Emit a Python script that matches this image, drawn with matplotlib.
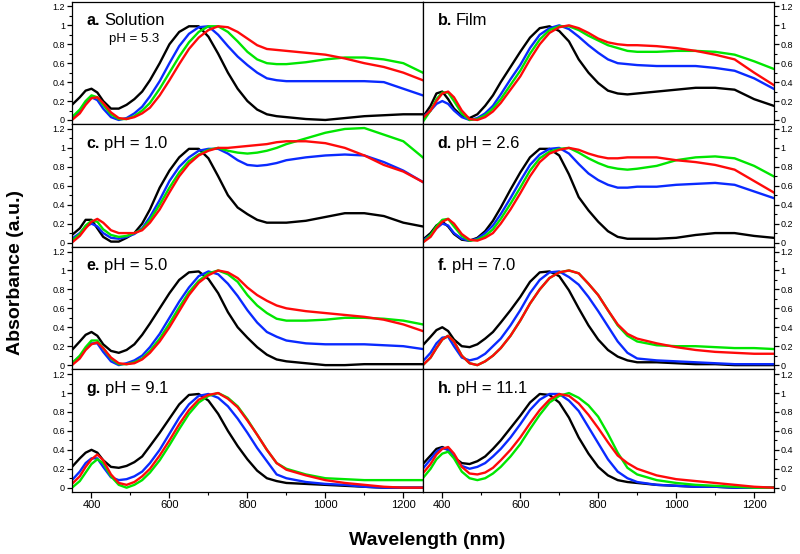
import matplotlib
matplotlib.use("Agg")
import matplotlib.pyplot as plt
from matplotlib.ticker import MultipleLocator, FuncFormatter

plt.rcParams['font.family'] = ['Liberation Sans', 'DejaVu Sans']

wavelength = [350, 370, 385, 400, 415, 430, 450, 470, 490, 510, 530, 550, 575, 600, 625, 650, 675,
              700, 725, 750, 775, 800, 825, 850, 875, 900, 950, 1000, 1050, 1100, 1150, 1200, 1250]

# Panel a: Solution pH 5.3
a_black = [0.16, 0.24, 0.31, 0.33, 0.29, 0.20, 0.12, 0.12, 0.16, 0.22, 0.30, 0.42, 0.60, 0.80, 0.93, 0.99, 0.99,
           0.88, 0.70, 0.50, 0.33, 0.20, 0.11, 0.06, 0.04, 0.03, 0.01, 0.00, 0.02, 0.04, 0.05, 0.06, 0.06]
a_blue = [0.02, 0.10, 0.19, 0.24, 0.21, 0.12, 0.03, 0.00, 0.02, 0.07, 0.14, 0.25, 0.41, 0.60, 0.78, 0.91, 0.98,
          0.99, 0.90, 0.78, 0.67, 0.58, 0.50, 0.44, 0.42, 0.41, 0.41, 0.41, 0.41, 0.41, 0.40, 0.33, 0.26]
a_green = [0.03, 0.11, 0.20, 0.26, 0.24, 0.16, 0.06, 0.01, 0.01, 0.04, 0.10, 0.18, 0.33, 0.50, 0.67, 0.82, 0.93,
           0.99, 0.99, 0.93, 0.83, 0.72, 0.64, 0.60, 0.59, 0.59, 0.61, 0.64, 0.66, 0.66, 0.64, 0.60, 0.50]
a_red = [0.00, 0.07, 0.16, 0.23, 0.24, 0.18, 0.08, 0.02, 0.01, 0.03, 0.07, 0.13, 0.26, 0.42, 0.59, 0.75, 0.87,
         0.95, 0.99, 0.98, 0.93, 0.86, 0.79, 0.75, 0.74, 0.73, 0.71, 0.69, 0.65, 0.60, 0.56, 0.50, 0.42]

# Panel b: Film
b_black = [0.03, 0.15, 0.28, 0.30, 0.22, 0.12, 0.04, 0.02, 0.06, 0.15, 0.26, 0.40, 0.56, 0.72, 0.87, 0.97, 0.99,
           0.94, 0.83, 0.64, 0.50, 0.39, 0.31, 0.28, 0.27, 0.28, 0.30, 0.32, 0.34, 0.34, 0.32, 0.22, 0.15]
b_blue = [0.03, 0.10, 0.17, 0.20, 0.17, 0.10, 0.03, 0.00, 0.02, 0.07, 0.15, 0.27, 0.43, 0.58, 0.76, 0.90, 0.97,
          1.00, 0.96, 0.88, 0.79, 0.71, 0.64, 0.60, 0.59, 0.58, 0.57, 0.57, 0.57, 0.55, 0.52, 0.44, 0.33]
b_green = [-0.02, 0.10, 0.22, 0.29, 0.29, 0.20, 0.07, 0.00, 0.01, 0.05, 0.12, 0.22, 0.37, 0.52, 0.70, 0.85, 0.95,
           0.99, 0.99, 0.95, 0.89, 0.84, 0.79, 0.76, 0.73, 0.72, 0.72, 0.73, 0.73, 0.72, 0.69, 0.62, 0.54]
b_red = [0.02, 0.10, 0.20, 0.28, 0.30, 0.24, 0.10, 0.01, 0.00, 0.03, 0.09, 0.18, 0.32, 0.46, 0.64, 0.80, 0.92,
         0.98, 1.00, 0.97, 0.92, 0.86, 0.82, 0.80, 0.79, 0.79, 0.78, 0.76, 0.73, 0.69, 0.64, 0.50, 0.37]

# Panel c: pH 1.0
c_black = [0.08, 0.15, 0.24, 0.24, 0.15, 0.06, 0.01, 0.01, 0.05, 0.10, 0.20, 0.35, 0.58, 0.76, 0.90, 0.99, 0.99,
           0.89, 0.70, 0.50, 0.37, 0.30, 0.24, 0.21, 0.21, 0.21, 0.23, 0.27, 0.31, 0.31, 0.28, 0.21, 0.17]
c_blue = [0.04, 0.10, 0.17, 0.20, 0.17, 0.10, 0.05, 0.04, 0.06, 0.09, 0.15, 0.27, 0.45, 0.65, 0.80, 0.90, 0.97,
          0.99, 0.99, 0.94, 0.87, 0.82, 0.81, 0.82, 0.84, 0.87, 0.90, 0.92, 0.93, 0.92, 0.85, 0.76, 0.64]
c_green = [0.02, 0.09, 0.18, 0.23, 0.22, 0.14, 0.08, 0.06, 0.07, 0.10, 0.14, 0.24, 0.40, 0.58, 0.74, 0.86, 0.93,
           0.98, 1.00, 0.97, 0.95, 0.94, 0.95, 0.97, 1.00, 1.04, 1.10, 1.16, 1.20, 1.21, 1.14, 1.07, 0.90]
c_red = [0.00, 0.07, 0.15, 0.22, 0.25, 0.21, 0.13, 0.10, 0.10, 0.10, 0.13, 0.21, 0.35, 0.53, 0.70, 0.83, 0.92,
         0.97, 1.00, 1.00, 1.01, 1.02, 1.03, 1.04, 1.06, 1.07, 1.07, 1.05, 1.00, 0.92, 0.82, 0.75, 0.64]

# Panel d: pH 2.6
d_black = [0.03, 0.10, 0.18, 0.22, 0.17, 0.09, 0.03, 0.02, 0.05, 0.12, 0.23, 0.37, 0.56, 0.74, 0.90, 0.99, 0.99,
           0.92, 0.72, 0.48, 0.34, 0.22, 0.12, 0.06, 0.04, 0.04, 0.04, 0.05, 0.08, 0.10, 0.10, 0.07, 0.05]
d_blue = [0.02, 0.08, 0.15, 0.20, 0.18, 0.10, 0.04, 0.02, 0.04, 0.10, 0.18, 0.30, 0.47, 0.65, 0.82, 0.93, 0.99,
          1.00, 0.94, 0.83, 0.73, 0.66, 0.61, 0.58, 0.58, 0.59, 0.59, 0.61, 0.62, 0.63, 0.61, 0.54, 0.47]
d_green = [0.00, 0.08, 0.17, 0.24, 0.25, 0.17, 0.07, 0.02, 0.03, 0.07, 0.14, 0.25, 0.41, 0.58, 0.76, 0.89, 0.96,
           0.99, 1.00, 0.95, 0.89, 0.84, 0.80, 0.78, 0.77, 0.78, 0.81, 0.87, 0.90, 0.91, 0.89, 0.81, 0.70]
d_red = [0.00, 0.06, 0.15, 0.22, 0.25, 0.20, 0.09, 0.03, 0.02, 0.05, 0.10, 0.20, 0.35, 0.52, 0.70, 0.85, 0.94,
         0.98, 1.00, 0.98, 0.94, 0.91, 0.89, 0.89, 0.90, 0.90, 0.90, 0.87, 0.85, 0.82, 0.77, 0.65, 0.53]

# Panel e: pH 5.0
e_black = [0.16, 0.25, 0.32, 0.35, 0.31, 0.22, 0.15, 0.13, 0.16, 0.22, 0.32, 0.44, 0.60, 0.76, 0.90, 0.98, 0.99,
           0.91, 0.76, 0.56, 0.40, 0.29, 0.19, 0.11, 0.06, 0.04, 0.02, 0.00, 0.00, 0.01, 0.01, 0.01, 0.01]
e_blue = [0.02, 0.09, 0.17, 0.23, 0.23, 0.14, 0.04, 0.00, 0.02, 0.05, 0.10, 0.19, 0.33, 0.50, 0.67, 0.82, 0.94,
          0.99, 0.96, 0.86, 0.73, 0.58, 0.45, 0.35, 0.30, 0.26, 0.23, 0.22, 0.22, 0.22, 0.21, 0.20, 0.17]
e_green = [0.02, 0.10, 0.19, 0.26, 0.26, 0.18, 0.07, 0.01, 0.01, 0.03, 0.07, 0.15, 0.28, 0.44, 0.61, 0.77, 0.89,
           0.97, 1.00, 0.96, 0.88, 0.74, 0.63, 0.55, 0.49, 0.47, 0.47, 0.48, 0.50, 0.50, 0.49, 0.47, 0.43]
e_red = [0.00, 0.07, 0.16, 0.22, 0.24, 0.18, 0.08, 0.02, 0.01, 0.02, 0.06, 0.13, 0.25, 0.40, 0.57, 0.74, 0.87,
         0.95, 1.00, 0.98, 0.92, 0.82, 0.74, 0.68, 0.63, 0.60, 0.57, 0.55, 0.53, 0.51, 0.48, 0.43, 0.36]

# Panel f: pH 7.0
f_black = [0.21, 0.30, 0.37, 0.40, 0.36, 0.27, 0.20, 0.19, 0.22, 0.28, 0.35, 0.45, 0.58, 0.72, 0.88, 0.98, 0.99,
           0.94, 0.79, 0.60, 0.42, 0.27, 0.16, 0.09, 0.05, 0.03, 0.03, 0.02, 0.01, 0.01, 0.00, 0.00, 0.00]
f_blue = [0.04, 0.13, 0.23, 0.29, 0.30, 0.20, 0.08, 0.05, 0.07, 0.12, 0.20, 0.28, 0.42, 0.58, 0.76, 0.90, 0.98,
          0.99, 0.93, 0.85, 0.72, 0.57, 0.41, 0.25, 0.13, 0.07, 0.05, 0.04, 0.03, 0.02, 0.01, 0.01, 0.01]
f_green = [0.00, 0.08, 0.18, 0.27, 0.31, 0.25, 0.10, 0.02, 0.00, 0.04, 0.10, 0.18, 0.31, 0.47, 0.65, 0.80, 0.92,
           0.98, 1.00, 0.97, 0.86, 0.74, 0.58, 0.42, 0.31, 0.25, 0.21, 0.20, 0.20, 0.19, 0.18, 0.18, 0.17]
f_red = [0.00, 0.08, 0.18, 0.27, 0.31, 0.25, 0.10, 0.02, 0.00, 0.04, 0.10, 0.18, 0.31, 0.47, 0.65, 0.80, 0.92,
         0.98, 1.00, 0.97, 0.86, 0.74, 0.58, 0.43, 0.33, 0.28, 0.23, 0.19, 0.16, 0.14, 0.13, 0.12, 0.12]

# Panel g: pH 9.1
g_black = [0.22, 0.31, 0.37, 0.40, 0.37, 0.29, 0.22, 0.21, 0.23, 0.27, 0.33, 0.44, 0.58, 0.73, 0.88, 0.98, 0.99,
           0.92, 0.78, 0.60, 0.44, 0.30, 0.18, 0.10, 0.07, 0.05, 0.04, 0.03, 0.02, 0.01, 0.00, 0.00, 0.00]
g_blue = [0.08, 0.17, 0.26, 0.31, 0.31, 0.22, 0.11, 0.08, 0.09, 0.12, 0.17, 0.26, 0.40, 0.57, 0.74, 0.88, 0.97,
          0.99, 0.95, 0.86, 0.73, 0.58, 0.42, 0.28, 0.14, 0.10, 0.06, 0.04, 0.03, 0.01, 0.00, 0.00, 0.00]
g_green = [0.00, 0.07, 0.16, 0.25, 0.30, 0.26, 0.12, 0.03, 0.00, 0.03, 0.08, 0.16, 0.29, 0.45, 0.62, 0.78, 0.90,
           0.97, 1.00, 0.95, 0.86, 0.72, 0.56, 0.40, 0.26, 0.20, 0.14, 0.10, 0.09, 0.08, 0.08, 0.08, 0.08]
g_red = [0.04, 0.12, 0.22, 0.30, 0.35, 0.29, 0.14, 0.05, 0.03, 0.06, 0.12, 0.20, 0.34, 0.50, 0.67, 0.82, 0.93,
         0.98, 1.00, 0.94, 0.85, 0.71, 0.56, 0.40, 0.26, 0.19, 0.13, 0.08, 0.05, 0.03, 0.01, 0.00, 0.00]

# Panel h: pH 11.1
h_black = [0.25, 0.34, 0.41, 0.43, 0.40, 0.32, 0.26, 0.25, 0.28, 0.33, 0.41, 0.50, 0.63, 0.76, 0.90, 0.99, 0.98,
           0.90, 0.74, 0.53, 0.36, 0.22, 0.13, 0.08, 0.06, 0.05, 0.03, 0.02, 0.01, 0.01, 0.00, 0.00, 0.00]
h_blue = [0.20, 0.30, 0.38, 0.42, 0.40, 0.32, 0.23, 0.20, 0.22, 0.26, 0.33, 0.41, 0.53, 0.67, 0.82, 0.93, 0.99,
          0.99, 0.92, 0.81, 0.64, 0.47, 0.30, 0.17, 0.10, 0.06, 0.03, 0.02, 0.01, 0.01, 0.00, 0.00, 0.00]
h_green = [0.10, 0.20, 0.30, 0.36, 0.38, 0.31, 0.17, 0.10, 0.08, 0.10, 0.15, 0.22, 0.33, 0.46, 0.62, 0.77, 0.90,
           0.97, 1.00, 0.95, 0.87, 0.75, 0.57, 0.37, 0.21, 0.14, 0.08, 0.05, 0.03, 0.02, 0.01, 0.00, 0.00]
h_red = [0.15, 0.25, 0.35, 0.41, 0.43, 0.36, 0.22, 0.15, 0.14, 0.16, 0.21, 0.29, 0.40, 0.53, 0.68, 0.82, 0.93,
         0.99, 0.97, 0.89, 0.77, 0.63, 0.48, 0.34, 0.26, 0.20, 0.13, 0.09, 0.07, 0.05, 0.03, 0.01, 0.00]

panel_letters = ['a.', 'b.', 'c.', 'd.', 'e.', 'f.', 'g.', 'h.']
panel_titles = ['Solution', 'Film', 'pH = 1.0', 'pH = 2.6', 'pH = 5.0', 'pH = 7.0', 'pH = 9.1', 'pH = 11.1']
panel_data = [
    (a_black, a_blue, a_green, a_red),
    (b_black, b_blue, b_green, b_red),
    (c_black, c_blue, c_green, c_red),
    (d_black, d_blue, d_green, d_red),
    (e_black, e_blue, e_green, e_red),
    (f_black, f_blue, f_green, f_red),
    (g_black, g_blue, g_green, g_red),
    (h_black, h_blue, h_green, h_red),
]
line_colors = ['#000000', '#0a2aff', '#00e600', '#ff0a0a']
x_ticks = [400, 600, 800, 1000, 1200]
y_ticks = [0, 0.2, 0.4, 0.6, 0.8, 1.0, 1.2]

fig, axes = plt.subplots(4, 2, figsize=(8.0, 5.54), dpi=100, sharex=True)
fig.subplots_adjust(left=0.09, right=0.967, top=0.997, bottom=0.112, wspace=0, hspace=0)

fmt = FuncFormatter(lambda v, p: ('%g' % round(v, 2)))

for i, ax in enumerate(axes.flat):
    row, col = divmod(i, 2)
    for series, c in zip(panel_data[i], line_colors):
        ax.plot(wavelength, series, color=c, lw=1.7, solid_joinstyle='round')
    ax.set_xlim(350, 1250)
    ax.set_ylim(-0.045, 1.25)
    ax.set_xticks(x_ticks)
    ax.xaxis.set_minor_locator(MultipleLocator(100))
    ax.set_yticks(y_ticks)
    ax.yaxis.set_minor_locator(MultipleLocator(0.1))
    ax.yaxis.set_major_formatter(fmt)
    for s in ax.spines.values():
        s.set_linewidth(0.9)
    ax.tick_params(axis='x', which='major', direction='out', length=4, width=0.9,
                   labelsize=8, pad=2, top=False)
    ax.tick_params(axis='x', which='minor', direction='out', length=2.5, width=0.8, top=False)
    if col == 0:
        ax.tick_params(axis='y', which='both', left=True, right=False, labelleft=True, labelright=False)
    else:
        ax.tick_params(axis='y', which='both', left=False, right=True, labelleft=False, labelright=True)
    ax.tick_params(axis='y', which='major', direction='out', length=3.5, width=0.9, labelsize=6.5, pad=1.5)
    ax.tick_params(axis='y', which='minor', direction='out', length=2, width=0.8)
    if row < 3:
        ax.tick_params(axis='x', labelbottom=False)

    t = ax.text(0.042, 0.81, panel_letters[i], transform=ax.transAxes, fontsize=11.5,
                fontweight='bold', ha='left', va='baseline')
    ax.annotate(panel_titles[i], xy=(1, 0), xycoords=t, xytext=(3, 0), textcoords='offset points',
                fontsize=12, ha='left', va='bottom')

axes[0, 0].text(0.106, 0.673, 'pH = 5.3', transform=axes[0, 0].transAxes, fontsize=9.5,
                ha='left', va='baseline')

fig.text(0.019, 0.509, 'Absorbance (a.u.)', rotation=90, fontsize=14, fontweight='bold',
         ha='center', va='center')
fig.text(0.534, 0.025, 'Wavelength (nm)', fontsize=14, fontweight='bold', ha='center', va='center')

fig.savefig('out.png', dpi=100)
